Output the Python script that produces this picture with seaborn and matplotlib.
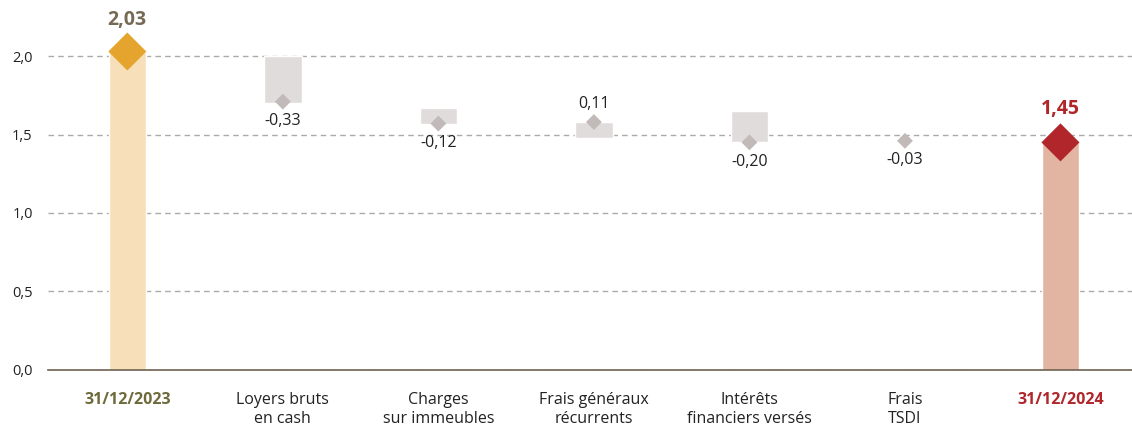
import matplotlib
matplotlib.use("Agg")
import matplotlib.pyplot as plt
from matplotlib.ticker import FuncFormatter
import seaborn as sns
import pandas as pd

# data
categories = ["31/12/2023", "Loyers bruts\nen cash", "Charges\nsur immeubles",
              "Frais généraux\nrécurrents", "Intérêts\nfinanciers versés",
              "Frais\nTSDI", "31/12/2024"]
values = [2.03, -0.33, -0.12, 0.11, -0.20, -0.03, 1.45]
value_labels = ["2,03", "-0,33", "-0,12", "0,11", "-0,20", "-0,03", "1,45"]
box_low = [0.0, 1.70, 1.57, 1.48, 1.45, 1.45, 0.0]
box_high = [2.03, 2.00, 1.67, 1.58, 1.65, 1.455, 1.45]
marker_y = [2.03, 1.71, 1.57, 1.58, 1.45, 1.46, 1.45]
y_ticks = [0.0, 0.5, 1.0, 1.5, 2.0]

sns.set_theme(style="white")
plt.rcParams["font.family"] = ["Open Sans", "DejaVu Sans"]

df = pd.DataFrame({"cat": categories, "low": box_low, "high": box_high,
                   "y": marker_y, "val": values, "lab": value_labels})
df["height"] = df["high"] - df["low"]

box_colors = ["#f6dfb9"] + ["#e0dcdb"] * 5 + ["#e2b5a2"]
dia_colors = ["#e4a42e"] + ["#c2bab8"] * 5 + ["#b0262a"]

fig = plt.figure(figsize=(11.32, 4.28), dpi=100)
ax = fig.add_axes([48 / 1132, (428 - 369.6) / 428, 1 - 48 / 1132, 360.4 / 428])

x = list(range(len(categories)))
ax.bar(x, df["height"], bottom=df["low"], width=0.24, color=box_colors, zorder=2)

totals = df.index.isin([0, len(df) - 1])
sns.scatterplot(x=[x[i] for i in df.index[~totals]], y=df["y"][~totals], marker="D",
                s=65, color="#c2bab8", edgecolor="none", ax=ax, zorder=3, legend=False)
sns.scatterplot(x=[x[i] for i in df.index[totals]], y=df["y"][totals], marker="D",
                s=375, color=[dia_colors[0], dia_colors[-1]], edgecolor="none", ax=ax,
                zorder=3, legend=False)

# value labels
for i, row in df.iterrows():
    if i == 0:
        ax.text(i, row["y"] + 0.20, row["lab"], ha="center", va="center",
                fontsize=14, fontweight="bold", color="#766a55")
    elif i == len(df) - 1:
        ax.text(i, row["y"] + 0.21, row["lab"], ha="center", va="center",
                fontsize=14, fontweight="bold", color="#b0262a")
    elif row["val"] > 0:
        ax.text(i, row["y"] + 0.115, row["lab"], ha="center", va="center",
                fontsize=11.5, color="#222222")
    else:
        ax.text(i, row["y"] - 0.125, row["lab"], ha="center", va="center",
                fontsize=11.5, color="#222222")

ax.set_xlim(-0.51, 6.46)
ax.set_ylim(0, 2.3)
ax.set_yticks(y_ticks)
ax.yaxis.set_major_formatter(FuncFormatter(lambda v, p: f"{v:.1f}".replace(".", ",")))
ax.set_xticks(x)
ax.set_xticklabels(categories, fontsize=11.5, color="#222222", va="top", linespacing=1.25)
ticklabels = ax.get_xticklabels()
ticklabels[0].set_color("#6f6a3c")
ticklabels[0].set_fontweight("bold")
ticklabels[-1].set_color("#b0262a")
ticklabels[-1].set_fontweight("bold")
ax.tick_params(axis="x", length=0, pad=16)
ax.tick_params(axis="y", length=0, pad=11, labelsize=10.5, labelcolor="#222222")

ax.grid(axis="y", linestyle=(0, (4, 3)), color="#aaaaaa", linewidth=1, zorder=0)
ax.set_axisbelow(True)
for s in ["top", "right", "left"]:
    ax.spines[s].set_visible(False)
ax.spines["bottom"].set_color("#6e6150")
ax.spines["bottom"].set_linewidth(1.2)
ax.set_xlabel("")
ax.set_ylabel("")

fig.savefig("out.png", dpi=100)
